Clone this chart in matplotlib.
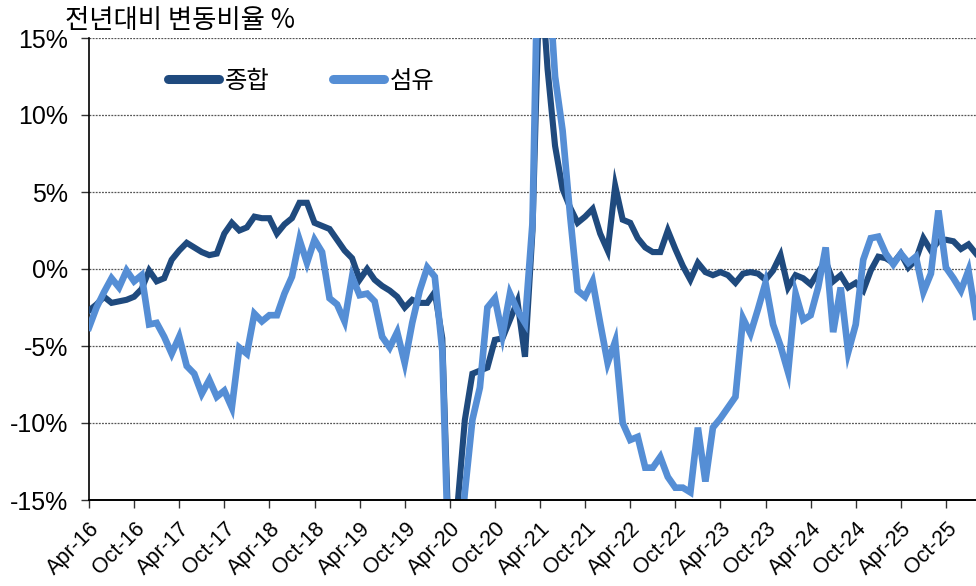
import numpy as np
import matplotlib
matplotlib.use("Agg")
import matplotlib.pyplot as plt

# monthly YoY change (%), Apr-16 .. Feb-26
total = [
    -2.7, -2.3, -1.8, -2.2, -2.1, -2.0, -1.8, -1.3, -0.1, -0.8,
    -0.6, 0.6, 1.2, 1.7, 1.4, 1.1, 0.9, 1.0, 2.3, 3.0,
    2.5, 2.7, 3.4, 3.3, 3.3, 2.3, 2.9, 3.3, 4.3, 4.3,
    3.0, 2.8, 2.6, 1.9, 1.2, 0.7, -0.7, 0.0, -0.7, -1.1,
    -1.4, -1.8, -2.5, -2.0, -2.2, -2.2, -1.5, -4.5, -20.0, -15.5,
    -9.8, -6.8, -6.6, -6.4, -4.6, -4.5, -3.3, -2.1, -5.7, 2.5,
    20.0, 13.0, 8.0, 5.2, 4.0, 3.0, 3.4, 3.9, 2.3, 1.2,
    5.4, 3.2, 3.0, 2.0, 1.4, 1.1, 1.1, 2.5, 1.3, 0.2,
    -0.7, 0.4, -0.2, -0.4, -0.2, -0.4, -0.9, -0.3, -0.2, -0.3,
    -0.7, -0.1, 0.9, -1.2, -0.4, -0.6, -1.0, -0.2, 0.5, -0.8,
    -0.4, -1.2, -0.9, -1.4, -0.1, 0.8, 0.7, 0.4, 1.0, 0.1,
    0.6, 2.0, 1.2, 1.8, 1.9, 1.8, 1.3, 1.6, 1.0,
]
textile = [
    -3.8, -2.5, -1.5, -0.6, -1.2, -0.1, -0.8, -0.4, -3.6, -3.5,
    -4.4, -5.5, -4.4, -6.3, -6.8, -8.1, -7.2, -8.3, -7.9, -9.0,
    -5.1, -5.5, -2.9, -3.4, -3.0, -3.0, -1.6, -0.5, 1.9, 0.4,
    1.9, 1.1, -1.9, -2.3, -3.4, -0.5, -1.7, -1.6, -2.1, -4.4,
    -5.1, -4.1, -6.1, -3.5, -1.4, 0.1, -0.5, -5.3, -22.0, -20.0,
    -14.5, -9.8, -7.7, -2.5, -1.9, -4.3, -1.6, -2.7, -3.5, 3.0,
    28.0, 20.0, 12.5, 9.0, 3.5, -1.4, -1.8, -0.8, -3.5, -6.1,
    -4.7, -10.0, -11.1, -10.9, -12.9, -12.9, -12.2, -13.5, -14.2, -14.2,
    -14.5, -10.3, -13.8, -10.3, -9.7, -9.0, -8.3, -3.2, -4.2, -2.6,
    -0.9, -3.6, -5.0, -6.7, -1.6, -3.3, -3.0, -1.2, 1.4, -4.1,
    -1.2, -5.4, -3.6, 0.6, 2.0, 2.1, 1.0, 0.3, 1.0, 0.4,
    0.8, -1.5, -0.3, 3.8, 0.1, -0.6, -1.4, -0.1, -3.1,
]
series_names = ["종합", "섬유"]
tick_labels = ["Apr-16", "Oct-16", "Apr-17", "Oct-17", "Apr-18", "Oct-18",
               "Apr-19", "Oct-19", "Apr-20", "Oct-20", "Apr-21", "Oct-21",
               "Apr-22", "Oct-22", "Apr-23", "Oct-23", "Apr-24", "Oct-24",
               "Apr-25", "Oct-25"]
y_ticks = [-15, -10, -5, 0, 5, 10, 15]

KR = ["Noto Sans CJK KR", "DejaVu Sans"]
plt.rcParams["font.family"] = ["Liberation Sans", "DejaVu Sans"]

x = np.arange(len(total))

fig = plt.figure(figsize=(9.76, 5.86), dpi=100)
ax = fig.add_axes([89 / 976, 1 - 500 / 586, 887 / 976, 462 / 586])

ax.plot(x, total, color="#1F4A7E", linewidth=4.4, solid_joinstyle="miter",
        label=series_names[0], zorder=3)
ax.plot(x, textile, color="#558ED5", linewidth=4.8, solid_joinstyle="miter",
        label=series_names[1], zorder=4)

ax.set_xlim(0, len(total) - 1)
ax.set_ylim(-15, 15)
ax.set_yticks(y_ticks)
ax.set_yticklabels([f"{v}%" for v in y_ticks], fontsize=18)
ax.set_xticks(np.arange(0, 6 * len(tick_labels), 6))
ax.set_xticklabels(tick_labels, fontsize=15.5, rotation=45, ha="right",
                   va="top", rotation_mode="anchor")
ax.tick_params(axis="both", direction="out", length=6, width=1, color="#333333")
ax.tick_params(axis="x", pad=7)
ax.tick_params(axis="y", pad=9)

for v in y_ticks[1:]:
    ax.axhline(v, color="#555555", linewidth=0.9, linestyle=(0, (1.5, 1)), zorder=1)
for s in ["top", "right"]:
    ax.spines[s].set_visible(False)
ax.spines["left"].set_linewidth(1.2)
ax.spines["bottom"].set_linewidth(1.4)
ax.spines["bottom"].set_zorder(5)

leg = ax.legend(loc="center left", bbox_to_anchor=(0.064, 0.907), ncol=2,
                frameon=False, handlelength=2.1, columnspacing=2.6,
                handletextpad=0.25, prop={"family": KR, "size": 17.5})
for line in leg.get_lines():
    line.set_linewidth(6.5)
    line.set_solid_capstyle("round")

fig.text(65 / 976, 1 - 20 / 586, "전년대비 변동비율 %", family=KR, fontsize=19,
         va="center", ha="left")

fig.savefig("out.png", dpi=100)
